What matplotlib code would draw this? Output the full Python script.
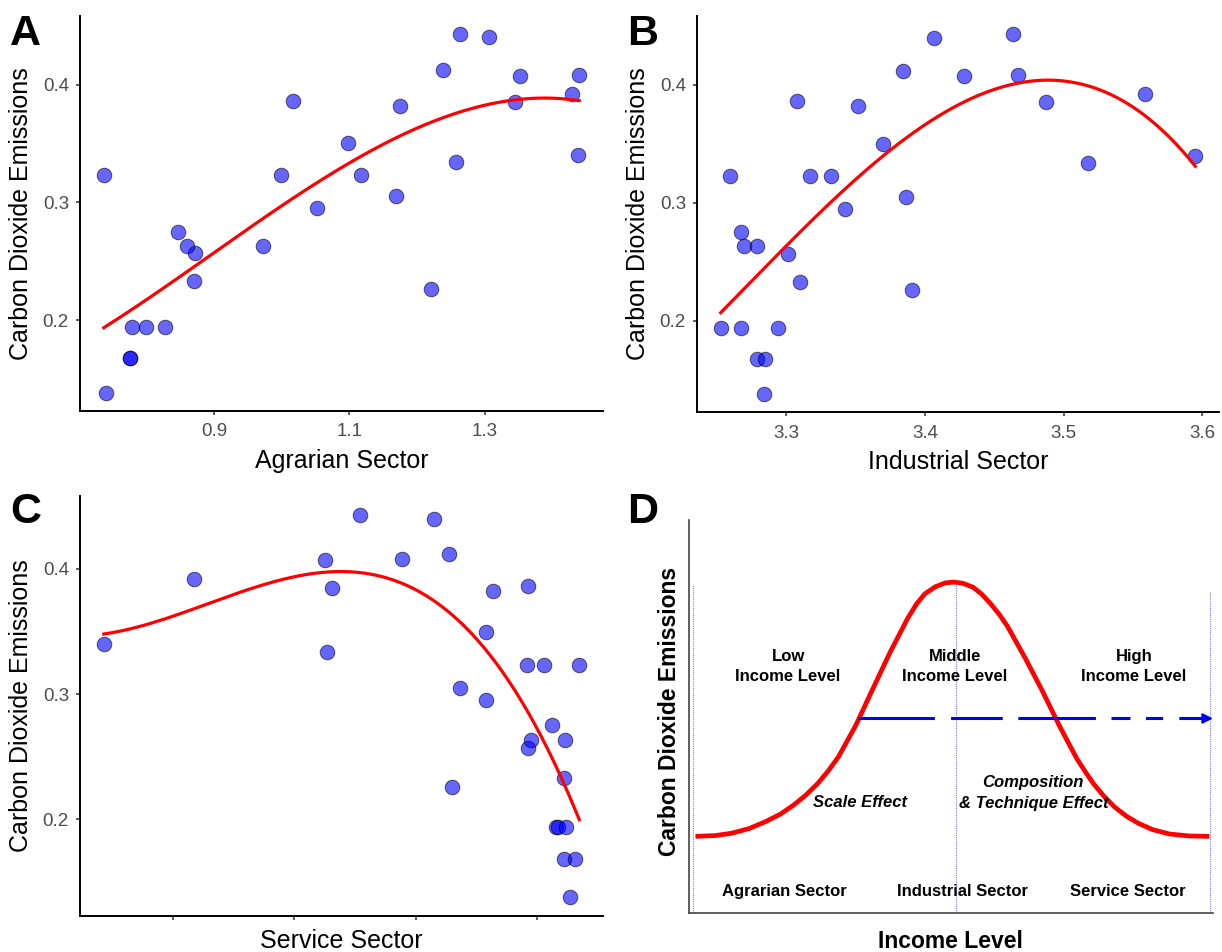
import numpy as np
import matplotlib
matplotlib.use("Agg")
import matplotlib.pyplot as plt

plt.rcParams['font.family'] = ['Liberation Sans', 'DejaVu Sans']

# CO2 emissions, shared by panels A-C (one value per observation)
co2 = [0.138, 0.168, 0.168, 0.194, 0.194, 0.194, 0.226, 0.233, 0.257, 0.263,
       0.263, 0.275, 0.295, 0.305, 0.323, 0.323, 0.323, 0.334, 0.340, 0.350,
       0.382, 0.385, 0.386, 0.392, 0.407, 0.408, 0.412, 0.440, 0.443]
agrarian = [0.7405, 0.775, 0.776, 0.7776, 0.799, 0.8265, 1.220, 0.870, 0.871, 0.859,
            0.972, 0.846, 1.0515, 1.169, 0.7365, 0.9985, 1.1166, 1.2575, 1.438, 1.0975,
            1.1755, 1.3446, 1.017, 1.429, 1.352, 1.44, 1.238, 1.307, 1.264]
industrial = [3.2837, 3.2788, 3.2847, 3.2528, 3.2677, 3.294, 3.391, 3.310, 3.3012, 3.2696,
              3.2786, 3.2672, 3.3423, 3.3864, 3.2593, 3.3175, 3.3326, 3.5173, 3.595, 3.3696,
              3.3516, 3.4874, 3.3075, 3.5584, 3.428, 3.4674, 3.384, 3.4063, 3.4635]
service = [4.1272, 4.1221, 4.1313, 4.1152, 4.1171, 4.1236, 4.030, 4.1221, 4.0921, 4.0946,
           4.1227, 4.1124, 4.0576, 4.0367, 4.0915, 4.1057, 4.1347, 3.9272, 3.7429, 4.0576,
           4.064, 3.9306, 4.0926, 3.8175, 3.9253, 3.9885, 4.0277, 4.0152, 3.9537]

# panel D: EKC sketch (axes fraction)
ekc_x = [0.0124, 0.050, 0.0815, 0.115, 0.147, 0.175, 0.200, 0.223, 0.246, 0.266,
         0.2855, 0.302, 0.3185, 0.351, 0.384, 0.417, 0.434, 0.450, 0.470, 0.489,
         0.506, 0.5225, 0.542, 0.558, 0.575, 0.592, 0.608, 0.641, 0.674, 0.707,
         0.724, 0.740, 0.757, 0.7725, 0.792, 0.812, 0.835, 0.858, 0.885, 0.917,
         0.955, 0.993]
ekc_y = [0.195, 0.197, 0.203, 0.215, 0.233, 0.252, 0.275, 0.300, 0.330, 0.362,
         0.398, 0.438, 0.478, 0.571, 0.664, 0.749, 0.786, 0.812, 0.830, 0.840,
         0.842, 0.839, 0.829, 0.812, 0.788, 0.760, 0.729, 0.650, 0.566, 0.476,
         0.433, 0.393, 0.358, 0.328, 0.297, 0.270, 0.246, 0.228, 0.212, 0.201,
         0.196, 0.195]

W, H = 1222, 952
fig = plt.figure(figsize=(W / 100, H / 100), dpi=100)


def box(l, t, r, b):
    return [l / W, 1 - b / H, (r - l) / W, (b - t) / H]


def scatter_panel(ax, x, xlabel, xticks, show_ticklabels=True):
    x = np.array(x)
    y = np.array(co2)
    ax.scatter(x, y, s=110, c='blue', alpha=0.6, edgecolors='black',
               linewidths=0.7, zorder=2)
    coef = np.polyfit(x, y, 3)
    xs = np.linspace(x.min(), x.max(), 200)
    ax.plot(xs, np.polyval(coef, xs), color='red', lw=2.3, zorder=3)
    ax.margins(0.05)
    for s in ['top', 'right']:
        ax.spines[s].set_visible(False)
    for s in ['left', 'bottom']:
        ax.spines[s].set_linewidth(1.4)
    ax.set_yticks([0.2, 0.3, 0.4])
    ax.set_xticks(xticks)
    ax.tick_params(length=3, width=1.1, color='#333333', labelcolor='#4D4D4D',
                   labelsize=13.5)
    ax.tick_params(axis='x', pad=6)
    ax.tick_params(axis='y', pad=5)
    if show_ticklabels:
        ax.set_xlabel(xlabel, fontsize=18, labelpad=6)
    else:
        ax.set_xticklabels([])
        ax.set_xlabel(xlabel, fontsize=18, labelpad=0)
    ax.set_ylabel('Carbon Dioxide Emissions', fontsize=18, labelpad=7)


axA = fig.add_axes(box(80, 16, 603, 411))
axB = fig.add_axes(box(697, 16, 1219, 412))
axC = fig.add_axes(box(80, 496, 603, 916))
axD = fig.add_axes(box(689, 520, 1213, 913))

scatter_panel(axA, agrarian, 'Agrarian Sector', [0.9, 1.1, 1.3])
scatter_panel(axB, industrial, 'Industrial Sector', [3.3, 3.4, 3.5, 3.6])
scatter_panel(axC, service, 'Service Sector', [3.8, 3.9, 4.0, 4.1], show_ticklabels=False)

# panel D
axD.set_xlim(0, 1)
axD.set_ylim(0, 1)
axD.set_xticks([])
axD.set_yticks([])
for s in ['top', 'right']:
    axD.spines[s].set_visible(False)
for s in ['left', 'bottom']:
    axD.spines[s].set_color('#444444')
    axD.spines[s].set_linewidth(1.2)

dot = dict(color='#7777ff', lw=0.8, linestyle=(0, (1, 1)))
axD.plot([0.007, 0.007], [0, 0.835], **dot)
axD.plot([0.509, 0.509], [0.004, 0.835], **dot)
axD.plot([0.994, 0.994], [0, 0.818], **dot)

axD.plot(ekc_x, ekc_y, color='red', lw=3.4, solid_joinstyle='round',
         solid_capstyle='butt')

axD.plot([0.323, 0.98], [0.495, 0.495], color='blue', lw=2.2,
         dashes=[25, 5.3, 16.9, 5.1, 25.4, 5.1, 6.2, 5.1, 5.6, 5.3, 18, 1])
axD.annotate('', xy=(1.0, 0.495), xytext=(0.97, 0.495), annotation_clip=False,
             arrowprops=dict(arrowstyle='-|>', color='blue', lw=1.5,
                             mutation_scale=15, shrinkA=0, shrinkB=0))

lab = dict(fontsize=12, fontweight='bold', ha='center', va='center', linespacing=1.45)
axD.text(0.189, 0.627, 'Low\nIncome Level', **lab)
axD.text(0.507, 0.627, 'Middle\nIncome Level', **lab)
axD.text(0.849, 0.627, 'High\nIncome Level', **lab)
axD.text(0.326, 0.282, 'Scale Effect', style='italic', **lab)
axD.text(0.657, 0.305, 'Composition\n& Technique Effect', style='italic', **lab)
axD.text(0.182, 0.055, 'Agrarian Sector', **lab)
axD.text(0.521, 0.055, 'Industrial Sector', **lab)
axD.text(0.838, 0.055, 'Service Sector', **lab)

fig.text(669 / W, 1 - 711 / H, 'Carbon Dioxide Emissions', rotation=90,
         fontsize=16.5, fontweight='bold', ha='center', va='center')
fig.text(950 / W, 1 - 941 / H, 'Income Level', fontsize=16.5,
         fontweight='bold', ha='center', va='center')

# panel tags
for tag, x, y in [('A', 10, 45), ('B', 627, 45), ('C', 10, 523), ('D', 627, 523)]:
    fig.text(x / W, 1 - y / H, tag, fontsize=31, fontweight='bold',
             ha='left', va='baseline')

fig.savefig('out.png', dpi=100)
